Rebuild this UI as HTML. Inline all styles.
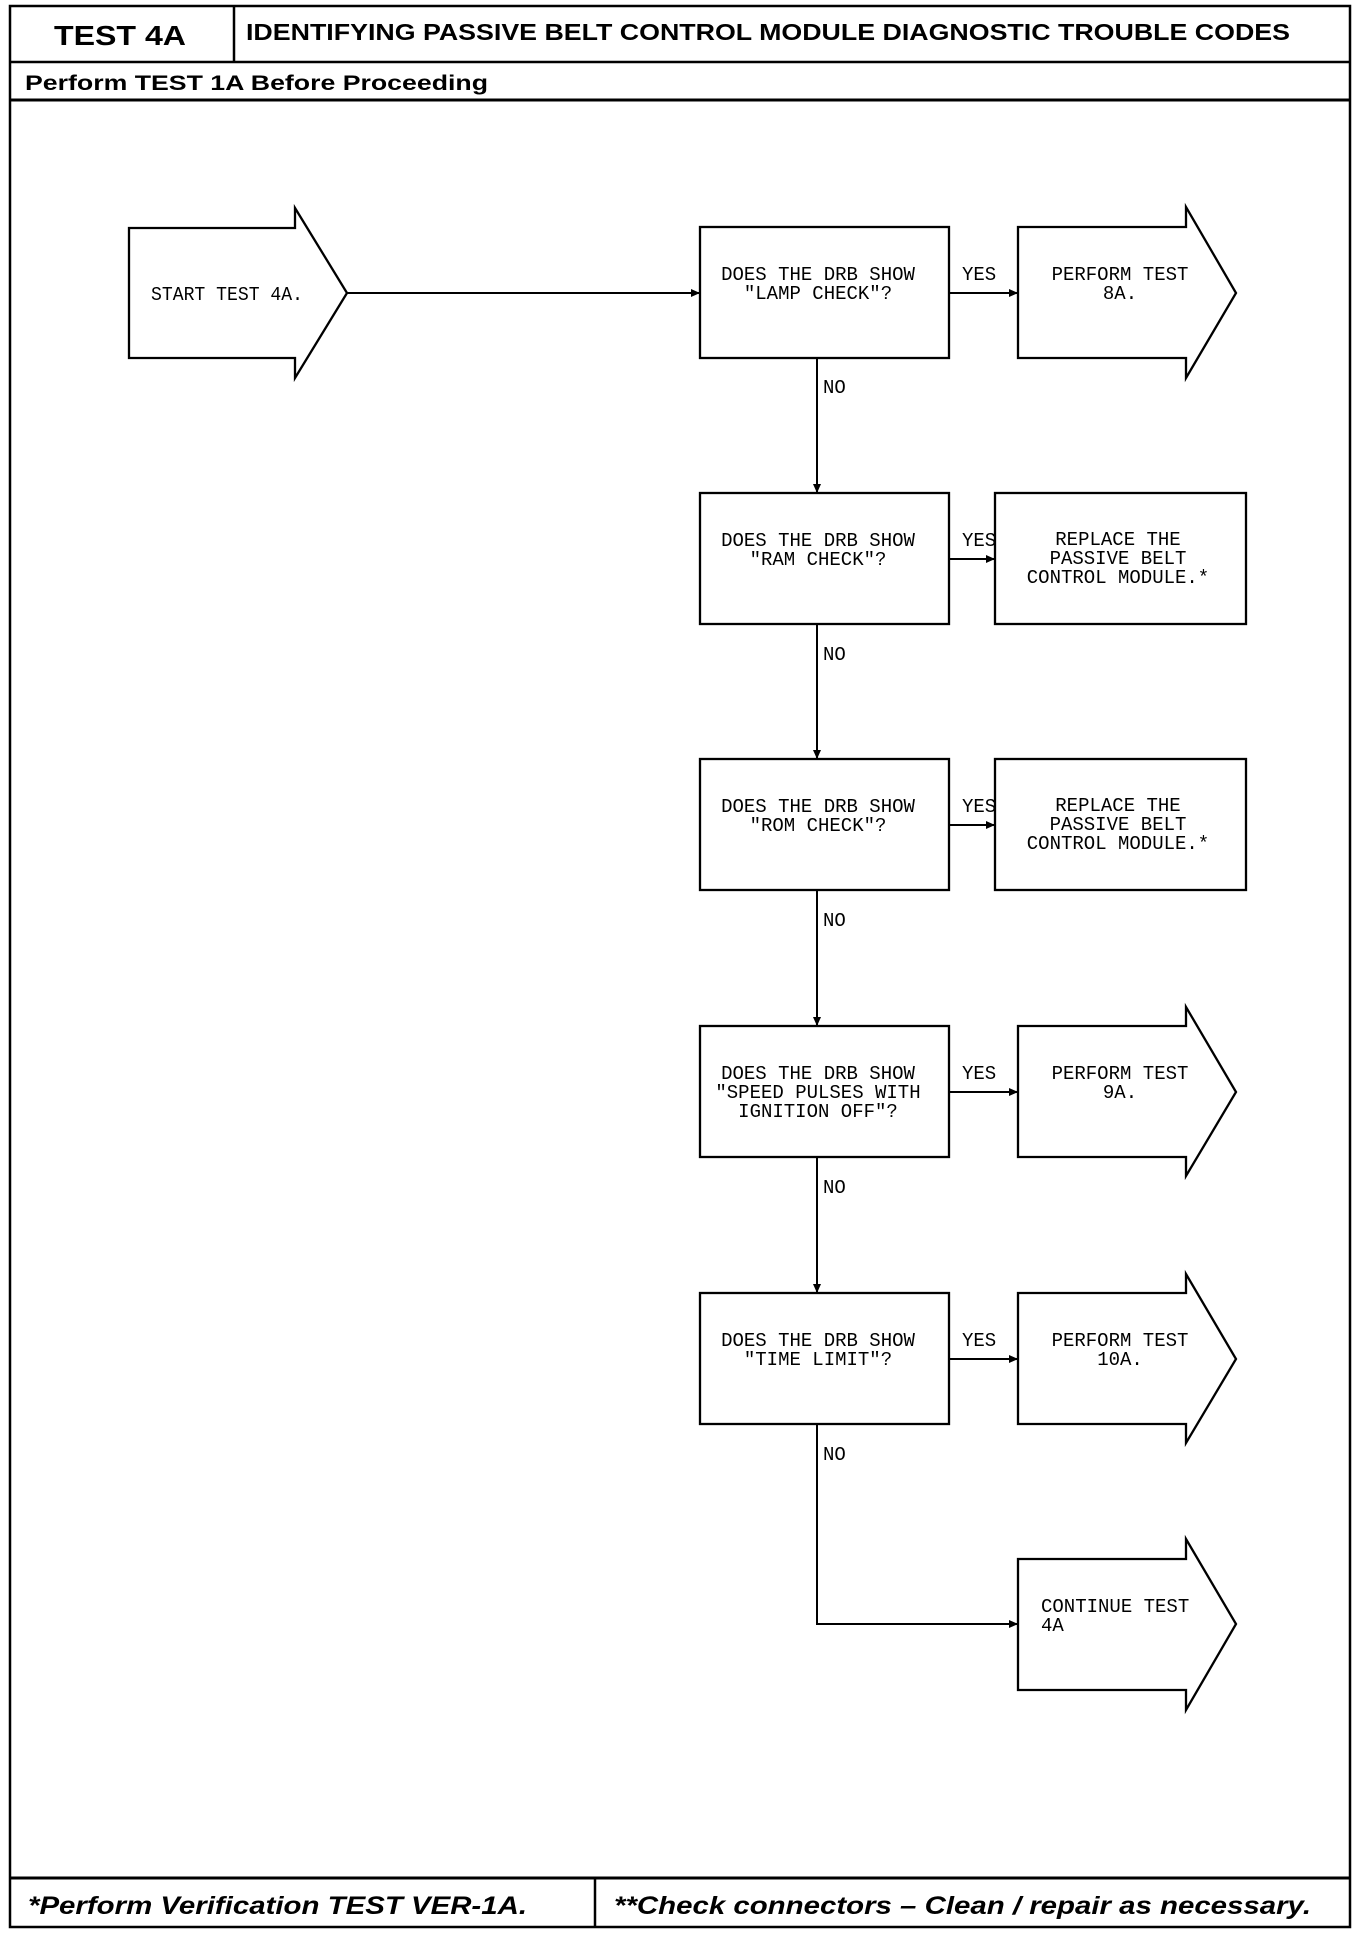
<!DOCTYPE html>
<html><head><meta charset="utf-8"><style>
html,body{margin:0;padding:0;background:#fff}
svg{display:block}
.m{font-family:"Liberation Mono",monospace;font-size:19px;fill:#000}
.b{font-family:"Liberation Sans",sans-serif;font-weight:bold;fill:#000}
</style></head><body>
<svg width="1360" height="1936" viewBox="0 0 1360 1936" xmlns="http://www.w3.org/2000/svg">
<defs><marker id="ah" markerWidth="10" markerHeight="8" refX="9" refY="4" orient="auto" markerUnits="userSpaceOnUse"><path d="M0,0 L9,4 L0,8 z" fill="#000"/></marker></defs>
<g fill="none" stroke="#000" stroke-width="2.5">
<rect x="10" y="6" width="1340" height="1921"/>
<line x1="10" y1="62" x2="1350" y2="62"/>
<line x1="234" y1="6" x2="234" y2="62"/>
<line x1="10" y1="100" x2="1350" y2="100" stroke-width="3"/>
<line x1="10" y1="1878" x2="1350" y2="1878" stroke-width="3"/>
<line x1="595" y1="1878" x2="595" y2="1927"/>
</g>
<text class="b" x="120" y="45" font-size="28" text-anchor="middle" textLength="132" lengthAdjust="spacingAndGlyphs">TEST 4A</text>
<text class="b" x="246" y="40" font-size="23" textLength="1044" lengthAdjust="spacingAndGlyphs">IDENTIFYING PASSIVE BELT CONTROL MODULE DIAGNOSTIC TROUBLE CODES</text>
<text class="b" x="25" y="90" font-size="21" textLength="463" lengthAdjust="spacingAndGlyphs">Perform TEST 1A Before Proceeding</text>
<text class="b" x="28" y="1914" font-size="25" font-style="italic" textLength="499" lengthAdjust="spacingAndGlyphs">*Perform Verification TEST VER-1A.</text>
<text class="b" x="614" y="1914" font-size="25" font-style="italic" textLength="697" lengthAdjust="spacingAndGlyphs">**Check connectors – Clean / repair as necessary.</text>

<g fill="#fff" stroke="#000" stroke-width="2.3">
<!-- start arrow -->
<path d="M129,228 L295,228 L295,208 L347,293 L295,378 L295,358 L129,358 Z"/>
<!-- decision boxes -->
<rect x="700" y="227" width="249" height="131"/>
<rect x="700" y="493" width="249" height="131"/>
<rect x="700" y="759" width="249" height="131"/>
<rect x="700" y="1026" width="249" height="131"/>
<rect x="700" y="1293" width="249" height="131"/>
<!-- perform arrows -->
<path d="M1018,227 L1186,227 L1186,207 L1236,293 L1186,378 L1186,358 L1018,358 Z"/>
<path d="M1018,1026 L1186,1026 L1186,1007 L1236,1092 L1186,1176 L1186,1157 L1018,1157 Z"/>
<path d="M1018,1293 L1186,1293 L1186,1274 L1236,1359 L1186,1443 L1186,1424 L1018,1424 Z"/>
<path d="M1018,1559 L1186,1559 L1186,1539 L1236,1624 L1186,1710 L1186,1690 L1018,1690 Z"/>
<!-- replace boxes -->
<rect x="995" y="493" width="251" height="131"/>
<rect x="995" y="759" width="251" height="131"/>
</g>

<g stroke="#000" stroke-width="2" fill="none" marker-end="url(#ah)">
<line x1="347" y1="293" x2="700" y2="293"/>
<line x1="949" y1="293" x2="1018" y2="293"/>
<line x1="949" y1="559" x2="995" y2="559"/>
<line x1="949" y1="825" x2="995" y2="825"/>
<line x1="949" y1="1092" x2="1018" y2="1092"/>
<line x1="949" y1="1359" x2="1018" y2="1359"/>
<line x1="817" y1="358" x2="817" y2="493"/>
<line x1="817" y1="624" x2="817" y2="759"/>
<line x1="817" y1="890" x2="817" y2="1026"/>
<line x1="817" y1="1157" x2="817" y2="1293"/>
<path d="M817,1424 L817,1624 L1018,1624"/>
</g>

<g class="m">
<text x="151" y="300" textLength="152" lengthAdjust="spacingAndGlyphs">START TEST 4A.</text>
<g text-anchor="middle">
<text x="818" y="280">DOES THE DRB SHOW</text>
<text x="818" y="299">"LAMP CHECK"?</text>
<text x="818" y="546">DOES THE DRB SHOW</text>
<text x="818" y="565">"RAM CHECK"?</text>
<text x="818" y="812">DOES THE DRB SHOW</text>
<text x="818" y="831">"ROM CHECK"?</text>
<text x="818" y="1079">DOES THE DRB SHOW</text>
<text x="818" y="1098">"SPEED PULSES WITH</text>
<text x="818" y="1117">IGNITION OFF"?</text>
<text x="818" y="1346">DOES THE DRB SHOW</text>
<text x="818" y="1365">"TIME LIMIT"?</text>
<text x="1120" y="280">PERFORM TEST</text>
<text x="1120" y="299">8A.</text>
<text x="1120" y="1079">PERFORM TEST</text>
<text x="1120" y="1098">9A.</text>
<text x="1120" y="1346">PERFORM TEST</text>
<text x="1120" y="1365">10A.</text>
<text x="1118" y="545">REPLACE THE</text>
<text x="1118" y="564">PASSIVE BELT</text>
<text x="1118" y="583">CONTROL MODULE.*</text>
<text x="1118" y="811">REPLACE THE</text>
<text x="1118" y="830">PASSIVE BELT</text>
<text x="1118" y="849">CONTROL MODULE.*</text>
</g>
<text x="1041" y="1612">CONTINUE TEST</text>
<text x="1041" y="1631">4A</text>
<text x="962" y="280">YES</text>
<text x="962" y="546">YES</text>
<text x="962" y="812">YES</text>
<text x="962" y="1079">YES</text>
<text x="962" y="1346">YES</text>
<text x="823" y="393">NO</text>
<text x="823" y="660">NO</text>
<text x="823" y="926">NO</text>
<text x="823" y="1193">NO</text>
<text x="823" y="1460">NO</text>
</g>
</svg>
</body></html>
